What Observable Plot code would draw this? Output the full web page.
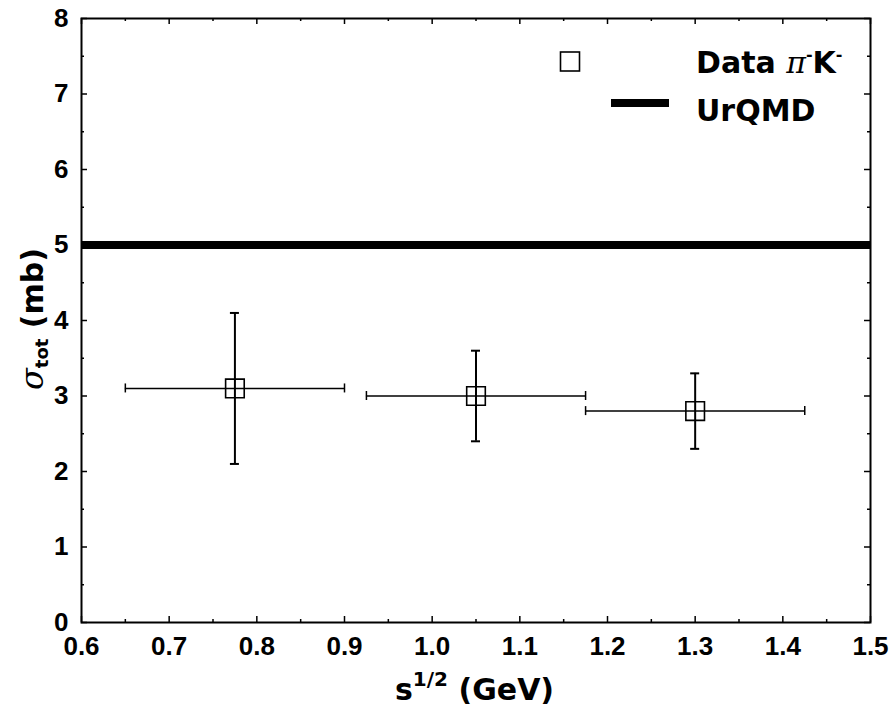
<!DOCTYPE html>
<html>
<head>
<meta charset="utf-8">
<script src="https://cdn.jsdelivr.net/npm/d3@7"></script>
<script src="https://cdn.jsdelivr.net/npm/@observablehq/plot@0.6"></script>
<style>
  html, body { margin: 0; padding: 0; background: #fff; }
</style>
</head>
<body>
<div id="chart"></div>
<script>
// ---- data ----
const energies = [0.775, 1.05, 1.3];          // s^{1/2} (GeV)
const sigma    = [3.1, 3.0, 2.8];             // sigma_tot (mb)
const xLow     = [0.65, 0.925, 1.175];
const xHigh    = [0.9, 1.175, 1.425];
const yLow     = [2.1, 2.4, 2.3];
const yHigh    = [4.1, 3.6, 3.3];
const urqmd    = [5.0];                        // UrQMD constant
const xTicks   = [0.6, 0.7, 0.8, 0.9, 1.0, 1.1, 1.2, 1.3, 1.4, 1.5];
const xMinor   = [0.65, 0.75, 0.85, 0.95, 1.05, 1.15, 1.25, 1.35, 1.45];
const yTicks   = [0, 1, 2, 3, 4, 5, 6, 7, 8];
const yMinor   = [0.5, 1.5, 2.5, 3.5, 4.5, 5.5, 6.5, 7.5];
const xDomain  = [0.6, 1.5];
const yDomain  = [0, 8];

const points = energies.map((x, i) => ({x, y: sigma[i], xlo: xLow[i], xhi: xHigh[i], ylo: yLow[i], yhi: yHigh[i]}));

// ---- layout ----
const W = 894, H = 715, mL = 81, mR = 24, mT = 18, mB = 93;
const xpx = (xDomain[1] - xDomain[0]) / (W - mL - mR);
const ypx = (yDomain[1] - yDomain[0]) / (H - mT - mB);
const majorLen = 6, minorLen = 3, capHalf = 4.5;

const tickFont = "'Liberation Sans', Arial, sans-serif";
const textFont = "'DejaVu Sans', sans-serif";

const plot = Plot.plot({
  width: W, height: H,
  marginLeft: mL, marginRight: mR, marginTop: mT, marginBottom: mB,
  x: {domain: xDomain},
  y: {domain: yDomain},
  style: {background: "white", color: "black"},
  marks: [
    Plot.axisX(xTicks, {tickSize: 0, tickPadding: 14, tickFormat: d3.format(".1f"), label: null,
      fontSize: 26, fontWeight: "bold", fontFamily: tickFont}),
    Plot.axisY(yTicks, {tickSize: 0, tickPadding: 13, tickFormat: d3.format("d"), label: null,
      fontSize: 26, fontWeight: "bold", fontFamily: tickFont}),
    // inward ticks (bottom/top)
    Plot.ruleX(xTicks, {x: d => d, y1: yDomain[0], y2: yDomain[0] + majorLen * ypx, strokeWidth: 1.5}),
    Plot.ruleX(xTicks, {x: d => d, y1: yDomain[1], y2: yDomain[1] - majorLen * ypx, strokeWidth: 1.5}),
    Plot.ruleX(xMinor, {x: d => d, y1: yDomain[0], y2: yDomain[0] + minorLen * ypx, strokeWidth: 1.5}),
    Plot.ruleX(xMinor, {x: d => d, y1: yDomain[1], y2: yDomain[1] - minorLen * ypx, strokeWidth: 1.5}),
    // inward ticks (left/right)
    Plot.ruleY(yTicks, {y: d => d, x1: xDomain[0], x2: xDomain[0] + majorLen * xpx, strokeWidth: 1.5}),
    Plot.ruleY(yTicks, {y: d => d, x1: xDomain[1], x2: xDomain[1] - majorLen * xpx, strokeWidth: 1.5}),
    Plot.ruleY(yMinor, {y: d => d, x1: xDomain[0], x2: xDomain[0] + minorLen * xpx, strokeWidth: 1.5}),
    Plot.ruleY(yMinor, {y: d => d, x1: xDomain[1], x2: xDomain[1] - minorLen * xpx, strokeWidth: 1.5}),
    // UrQMD line
    Plot.ruleY(urqmd, {y: d => d, x1: xDomain[0], x2: xDomain[1], strokeWidth: 8, stroke: "black"}),
    // error bars
    Plot.ruleY(points, {y: "y", x1: "xlo", x2: "xhi", strokeWidth: 1.5}),
    Plot.ruleX(points, {x: "x", y1: "ylo", y2: "yhi", strokeWidth: 2}),
    // caps
    Plot.ruleX(points, {x: "xlo", y1: d => d.y - capHalf * ypx, y2: d => d.y + capHalf * ypx, strokeWidth: 1.5}),
    Plot.ruleX(points, {x: "xhi", y1: d => d.y - capHalf * ypx, y2: d => d.y + capHalf * ypx, strokeWidth: 1.5}),
    Plot.ruleY(points, {y: "ylo", x1: d => d.x - capHalf * xpx, x2: d => d.x + capHalf * xpx, strokeWidth: 2}),
    Plot.ruleY(points, {y: "yhi", x1: d => d.x - capHalf * xpx, x2: d => d.x + capHalf * xpx, strokeWidth: 2}),
    // markers
    Plot.dot(points, {x: "x", y: "y", symbol: "square", r: 10.5, stroke: "black", fill: "none", strokeWidth: 1.6}),
    Plot.frame({stroke: "black", strokeWidth: 2})
  ]
});

document.getElementById("chart").append(plot);

// ---- titles and legend ----
const svg = d3.select(plot);
const overlay = svg.append("g")
  .attr("text-anchor", "start")
  .attr("fill", "#000")
  .style("fill", "#000");

// x title: s^{1/2} (GeV)
const xt = overlay.append("text")
  .attr("x", 395).attr("y", 700).attr("text-anchor", "start")
  .attr("font-family", textFont).attr("font-weight", "bold");
xt.append("tspan").attr("font-size", 30).text("s");
xt.append("tspan").attr("font-size", 20).attr("dy", -14).text("1/2");
xt.append("tspan").attr("font-size", 30).attr("dy", 14).text("\u00a0(GeV)");

// y title: sigma_tot (mb)
const yt = overlay.append("text")
  .attr("transform", "translate(43,390) rotate(-90)").attr("text-anchor", "start")
  .attr("font-family", textFont).attr("font-weight", "bold");
yt.append("tspan").attr("font-size", 32).attr("font-family", "'DejaVu Serif', serif")
  .attr("font-style", "italic").attr("font-weight", "normal").text("\u03c3");
yt.append("tspan").attr("font-size", 18).attr("dy", 5).text("tot");
yt.append("tspan").attr("font-size", 30).attr("dy", -5).text("\u00a0(mb)");

// legend
overlay.append("rect").attr("x", 560.5).attr("y", 52).attr("width", 19).attr("height", 19)
  .style("fill", "none").attr("stroke", "black").attr("stroke-width", 1.6);
overlay.append("line").attr("x1", 611).attr("x2", 669).attr("y1", 103).attr("y2", 103)
  .attr("stroke", "black").attr("stroke-width", 8);
const l1 = overlay.append("text").attr("x", 696).attr("y", 73).attr("text-anchor", "start")
  .attr("font-family", textFont).attr("font-weight", "bold").attr("font-size", 30);
l1.append("tspan").text("Data\u00a0");
l1.append("tspan").attr("font-family", "'DejaVu Serif', serif").attr("font-style", "italic")
  .attr("font-weight", "normal").text("\u03c0");
l1.append("tspan").attr("font-size", 16).attr("dy", -13).text("-");
l1.append("tspan").attr("dy", 13).text("K");
l1.append("tspan").attr("font-size", 16).attr("dy", -13).text("-");
overlay.append("text").attr("x", 696).attr("y", 121).attr("text-anchor", "start")
  .attr("font-family", textFont).attr("font-weight", "bold").attr("font-size", 30)
  .text("UrQMD");
</script>
</body>
</html>
